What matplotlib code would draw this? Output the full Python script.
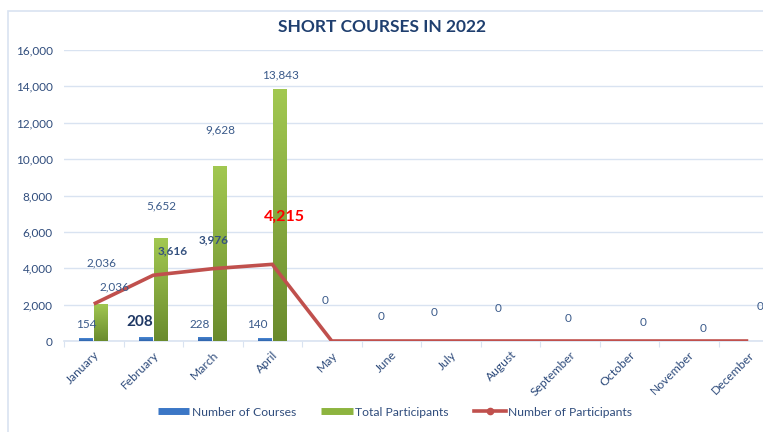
import matplotlib
matplotlib.use("Agg")
import matplotlib.pyplot as plt
import numpy as np
from matplotlib.lines import Line2D
from matplotlib.patches import Rectangle
from matplotlib.ticker import FuncFormatter, MultipleLocator
from matplotlib.colors import LinearSegmentedColormap

plt.rcParams['font.family'] = ['Lato', 'DejaVu Sans']

months = ["January", "February", "March", "April", "May", "June", "July",
          "August", "September", "October", "November", "December"]
courses = [154, 208, 228, 140, 0, 0, 0, 0, 0, 0, 0, 0]
total_participants = [2036, 5652, 9628, 13843, 0, 0, 0, 0, 0, 0, 0, 0]
num_participants = [2036, 3616, 3976, 4215, 0, 0, 0, 0, 0, 0, 0, 0]

title = "SHORT COURSES IN 2022"

TXT = "#3A5A8A"
TICK = "#2F4C7C"
GRID = "#D9E3F1"
RED = "#C0504D"

W, H = 763, 432
fig = plt.figure(figsize=(W / 100, H / 100), dpi=100)
ax = fig.add_axes([64 / W, (H - 341) / H, 714 / W, 291 / H])

x = np.arange(len(months))
bw = 0.235
off = 0.125

ax.set_xlim(-0.5, 11.5)
ax.set_ylim(0, 16000)

blue_bars = ax.bar(x - off, courses, bw, color="none", zorder=3)
green_bars = ax.bar(x + off, total_participants, bw, color="none", zorder=3)

# gradient fill for bars
grad = np.linspace(0, 1, 256).reshape(-1, 1)
gcmap = LinearSegmentedColormap.from_list("g", ["#A2C851", "#6A8B2D"])
bcmap = LinearSegmentedColormap.from_list("b", ["#4A88D4", "#2F64AC"])
for bars, cm in ((green_bars, gcmap), (blue_bars, bcmap)):
    for b in bars:
        h = b.get_height()
        if h <= 0:
            continue
        x0 = b.get_x()
        im = ax.imshow(grad, cmap=cm, aspect="auto", origin="upper",
                       extent=(x0, x0 + b.get_width(), 0, h), zorder=3)
        im.set_clip_path(b)

ax.plot(x, num_participants, color=RED, lw=2.6, zorder=4,
        solid_capstyle="butt", solid_joinstyle="miter")

ax.set_xlim(-0.5, 11.5)
ax.set_ylim(0, 16000)

# axes styling
ax.yaxis.set_major_locator(MultipleLocator(2000))
ax.yaxis.set_major_formatter(FuncFormatter(lambda v, p: f"{int(v):,}"))
ax.grid(axis="y", color=GRID, lw=1.0, zorder=0)
for s in ["top", "right", "left"]:
    ax.spines[s].set_visible(False)
ax.spines["bottom"].set_color(GRID)
ax.spines["bottom"].set_linewidth(1.2)
ax.tick_params(axis="y", length=0, pad=8, labelsize=8.5, labelcolor=TICK)
ax.set_xticks(np.arange(-0.5, 12, 1), minor=False)
ax.set_xticklabels([])
ax.tick_params(axis="x", length=4, color=GRID, direction="out")
for i, m in enumerate(months):
    ax.annotate(m, (x[i], 0), xytext=(4, -12), textcoords="offset pixels",
                rotation=45, rotation_mode="anchor", ha="right", va="center",
                fontsize=8.7, color=TICK)

def lab(xi, yv, text, dx, dy, **kw):
    style = dict(fontsize=8.5, color=TXT, ha="center", va="center")
    style.update(kw)
    ax.annotate(text, (xi, yv), xytext=(dx, dy), textcoords="offset pixels",
                zorder=6, **style)

course_off = [(0, 14), (-6.5, 15), (-6, 12), (-7, 13.5)]
course_style = [{}, dict(fontweight="bold", fontsize=11, color="#1F3864"), {}, {}]
for i in range(4):
    lab(x[i] - off, courses[i], f"{courses[i]:,}", *course_off[i], **course_style[i])

total_off = [(0, 41), (0.5, 32), (0.5, 36), (0.5, 14)]
for i in range(4):
    lab(x[i] + off, total_participants[i], f"{total_participants[i]:,}", *total_off[i])

part_off = [(21, 17), (19, 24), (1, 29), (12.5, 48)]
part_style = [{}, dict(fontweight="bold", color="#34517F"),
              dict(fontweight="bold", color="#34517F"),
              dict(fontweight="bold", fontsize=11.5, color="#FF0000")]
for i in range(4):
    lab(x[i], num_participants[i], f"{num_participants[i]:,}", *part_off[i], **part_style[i])

zero_off = [(-6.5, 40), (-10, 24), (-16.5, 29), (-12, 32), (-1.5, 23),
            (14, 18), (14.5, 13), (12, 34)]
for k, i in enumerate(range(4, 12)):
    lab(x[i], total_participants[i], f"{total_participants[i]:,}", *zero_off[k])

fig.text(382 / W, 1 - 27 / H, title, ha="center", va="center",
         fontsize=12.5, fontweight="bold", color="#1F3F6F")

# chart border
fig.add_artist(Rectangle((8 / W, -0.01), 1.2, 1 - 11 / H + 0.01,
                         transform=fig.transFigure, fill=False,
                         edgecolor=GRID, lw=1.2))

handles = [Line2D([], [], color="#3B77C6", lw=5, solid_capstyle="butt"),
           Line2D([], [], color="#8DB43F", lw=5, solid_capstyle="butt"),
           Line2D([], [], color=RED, lw=2.6, marker="o", markersize=4.5)]
leg = fig.legend(handles, ["Number of Courses", "Total Participants", "Number of Participants"],
                 loc="center", bbox_to_anchor=(395 / W, 1 - 412 / H), ncol=3,
                 frameon=False, fontsize=8.7, handlelength=2.6, handletextpad=0.2,
                 columnspacing=2.1)
for t in leg.get_texts():
    t.set_color(TICK)

fig.savefig("out.png", dpi=100)
